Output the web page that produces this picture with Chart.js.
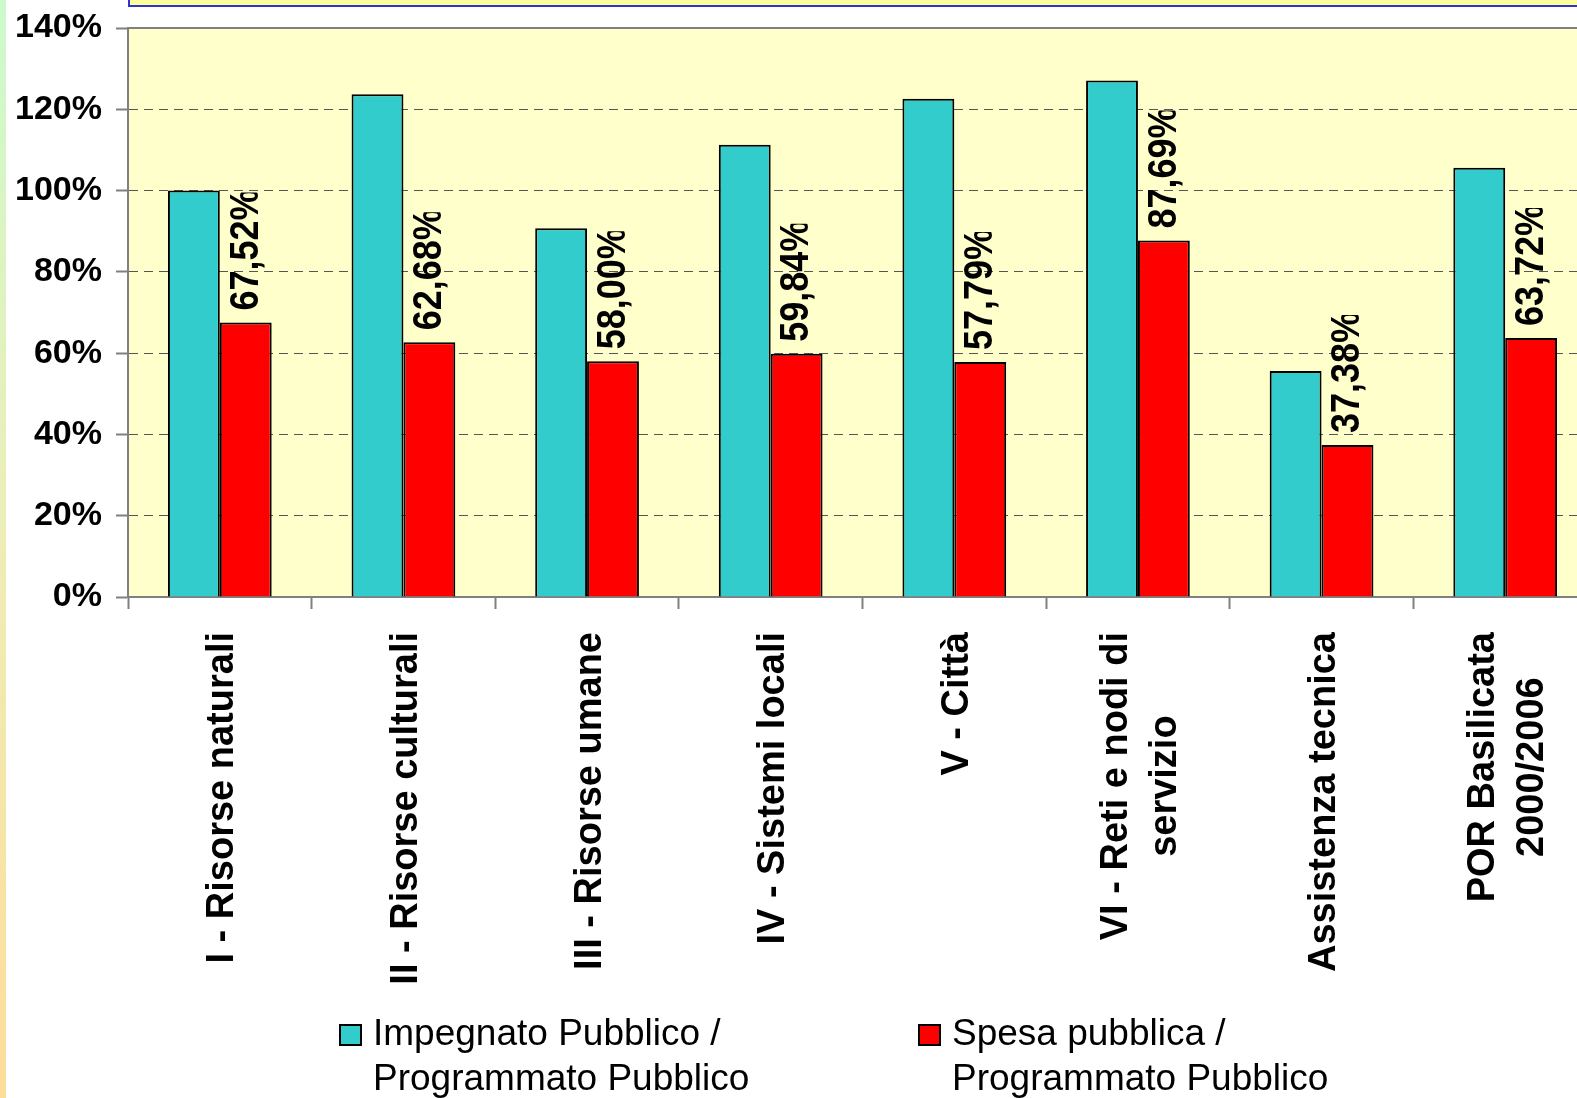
<!DOCTYPE html>
<html>
<head>
<meta charset="utf-8">
<script src="https://cdn.jsdelivr.net/npm/chart.js@4.4.1/dist/chart.umd.min.js"></script>
<style>
  html, body { margin: 0; padding: 0; background: #fff; overflow: hidden; }
  body { width: 1577px; height: 1098px; position: relative; }
  #chart { position: absolute; left: 0; top: 0; }
  #strip { position: absolute; left: 0; top: 0; width: 6px; height: 1098px;
           background: linear-gradient(#ccfacc, #eeedb6 50%, #fedd9a); }
  #titlebox { position: absolute; left: 128px; top: -20px; width: 1500px; height: 27px;
              box-sizing: border-box; border: 2px solid #3333cc; background: #ffff99; }
</style>
</head>
<body>
<canvas id="chart" width="1610" height="1098"></canvas>
<div id="strip"></div>
<div id="titlebox"></div>
<script>
const categories = [
    ["I - Risorse naturali"],
    ["II - Risorse culturali"],
    ["III - Risorse umane"],
    ["IV - Sistemi locali"],
    ["V - Città"],
    ["VI - Reti e nodi di", "servizio"],
    ["Assistenza tecnica"],
    ["POR Basilicata", "2000/2006"]
];
const impegnato = [100.0, 123.7, 90.7, 111.3, 122.6, 127.1, 55.6, 105.6];
const spesa = [67.52, 62.68, 58.00, 59.84, 57.79, 87.69, 37.38, 63.72];
const seriesNames = [
    ["Impegnato Pubblico /", "Programmato Pubblico"],
    ["Spesa pubblica /", "Programmato Pubblico"]
];
const seriesColors = ["#33cccc", "#ff0000"];
const yMin = 0, yMax = 140, yStep = 20;

const FONT = '"Liberation Sans", Arial, sans-serif';

// yellow plot background, solid top frame line
const plotArea = {
    id: "plotArea",
    beforeDraw(chart) {
        const { ctx, chartArea: a } = chart;
        ctx.save();
        ctx.fillStyle = "#ffffcc";
        ctx.fillRect(a.left, a.top, a.right - a.left, a.bottom - a.top);
        ctx.restore();
    },
    afterDatasetsDraw(chart) {
        const { ctx, chartArea: a } = chart;
        ctx.save();
        ctx.strokeStyle = "#808080";
        ctx.lineWidth = 2;
        ctx.beginPath();
        ctx.moveTo(a.left, a.top);
        ctx.lineTo(a.right, a.top);
        ctx.stroke();
        ctx.restore();
    }
};

// rotated value labels above the red bars
const barLabels = {
    id: "barLabels",
    afterDatasetsDraw(chart) {
        const ctx = chart.ctx;
        const size = 36;
        ctx.save();
        ctx.font = "bold " + size + "px " + FONT;
        ctx.fillStyle = "#000";
        ctx.textAlign = "left";
        ctx.textBaseline = "alphabetic";
        chart.getDatasetMeta(1).data.forEach((bar, i) => {
            const txt = spesa[i].toFixed(2).replace(".", ",") + "%";
            const w = ctx.measureText(txt).width;
            ctx.save();
            ctx.translate(bar.x - 3, bar.y - 12);
            ctx.rotate(-Math.PI / 2);
            ctx.scale(1, 1.15);
            ctx.beginPath();
            ctx.rect(0, -size, w - 4, size * 2);
            ctx.clip();
            ctx.fillText(txt, 0, 0.358 * size);
            ctx.restore();
        });
        ctx.restore();
    }
};

// vertical category labels, multi-line centred on each other
const xLabels = {
    id: "xLabels",
    afterDraw(chart) {
        const ctx = chart.ctx;
        const xs = chart.scales.x;
        const size = 38;
        ctx.save();
        ctx.font = "bold " + size + "px " + FONT;
        ctx.fillStyle = "#000";
        ctx.textAlign = "center";
        ctx.textBaseline = "alphabetic";
        categories.forEach((lines, i) => {
            const cx = xs.getPixelForValue(i);
            const W = Math.max(...lines.map(l => ctx.measureText(l).width));
            const cy = xs.top + 35 + W / 2;
            lines.forEach((l, j) => {
                const off = (j - (lines.length - 1) / 2) * 49;
                ctx.save();
                ctx.translate(cx + off, cy);
                ctx.rotate(-Math.PI / 2);
                ctx.fillText(l, 0, 0.358 * size);
                ctx.restore();
            });
        });
        ctx.restore();
    }
};

// two-line legend under the chart
const legendX = [340, 919];
const bottomLegend = {
    id: "bottomLegend",
    afterDraw(chart) {
        const ctx = chart.ctx;
        ctx.save();
        ctx.font = "37px " + FONT;
        ctx.textAlign = "left";
        ctx.textBaseline = "alphabetic";
        seriesNames.forEach((lines, i) => {
            const x = legendX[i];
            ctx.fillStyle = seriesColors[i];
            ctx.fillRect(x, 1025, 21, 20);
            ctx.strokeStyle = "#000";
            ctx.lineWidth = 2;
            ctx.strokeRect(x, 1025, 21, 20);
            ctx.fillStyle = "#000";
            lines.forEach((l, j) => ctx.fillText(l, x + 33, 1045 + j * 45));
        });
        ctx.restore();
    }
};

new Chart(document.getElementById("chart"), {
    type: "bar",
    data: {
        labels: categories,
        datasets: [
            {
                label: seriesNames[0].join(" "),
                data: impegnato,
                backgroundColor: seriesColors[0],
                borderColor: "#000",
                borderWidth: 2,
                categoryPercentage: 0.565,
                barPercentage: 1.0
            },
            {
                label: seriesNames[1].join(" "),
                data: spesa,
                backgroundColor: seriesColors[1],
                borderColor: "#000",
                borderWidth: 2,
                categoryPercentage: 0.565,
                barPercentage: 1.0
            }
        ]
    },
    options: {
        responsive: false,
        animation: false,
        layout: { padding: { top: 28, right: 13, left: 0, bottom: 0 } },
        plugins: {
            legend: { display: false },
            tooltip: { enabled: false }
        },
        scales: {
            x: {
                offset: true,
                ticks: { display: false },
                grid: { offset: true, drawOnChartArea: false, tickLength: 12, tickColor: "#808080", tickWidth: 2 },
                border: { color: "#808080", width: 2 },
                afterFit: s => { s.height = 1098 - 597; }
            },
            y: {
                min: yMin,
                max: yMax,
                ticks: {
                    stepSize: yStep,
                    callback: v => v + "%",
                    color: "#000",
                    padding: 14,
                    font: { family: FONT, size: 34, weight: "bold", lineHeight: 0.2 }
                },
                grid: { color: "#555555", lineWidth: 1, tickLength: 12, tickColor: "#808080", tickWidth: 2 },
                border: { color: "#808080", width: 2, dash: [9, 6] },
                afterFit: s => { s.width = 128; }
            }
        }
    },
    plugins: [plotArea, barLabels, xLabels, bottomLegend]
});
</script>
</body>
</html>
